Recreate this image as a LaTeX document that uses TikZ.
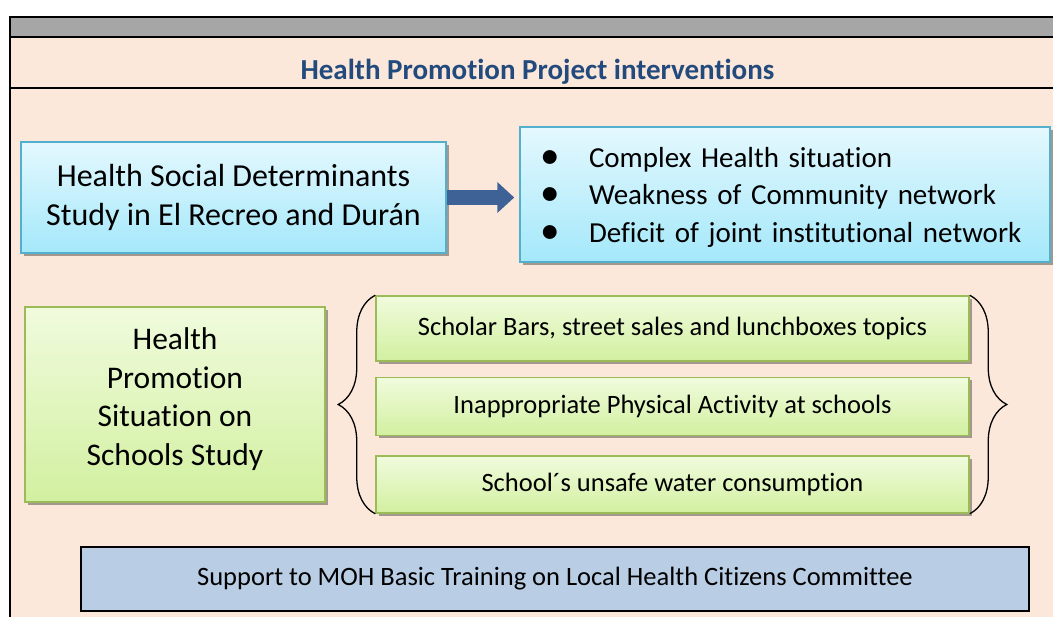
\documentclass[tikz,border=0pt]{standalone}
\usepackage{fontspec}
\setmainfont{Carlito}[Ligatures=NoCommon]
\usetikzlibrary{arrows.meta}
\usetikzlibrary{positioning}
\usetikzlibrary{shadows}
\usetikzlibrary{decorations.pathreplacing}
\definecolor{peach}{RGB}{252,232,218}
\definecolor{band}{RGB}{166,166,166}
\definecolor{ttlblue}{RGB}{35,74,125}
\definecolor{cyantop}{RGB}{228,248,254}
\definecolor{cyanbot}{RGB}{164,232,250}
\definecolor{cyanline}{RGB}{82,176,204}
\definecolor{greentop}{RGB}{240,251,221}
\definecolor{greenbot}{RGB}{210,240,160}
\definecolor{greenline}{RGB}{155,187,89}
\definecolor{mohblue}{RGB}{185,205,229}
\definecolor{arrowblue}{RGB}{62,98,150}
\newcommand{\itm}[1]{\makebox[49pt][l]{\raisebox{-1pt}{\scalebox{1.35}{\textbullet}}}#1}

\begin{document}
\begin{tikzpicture}[x=1pt,
                    y=-1pt,
                    shd/.style={drop shadow={shadow xshift=3pt,shadow yshift=-3pt,opacity=.35,fill=black}},
                    bbox/.style={rectangle,draw=cyanline,line width=1.5pt,top color=cyantop,bottom color=cyanbot,inner sep=0pt,align=center,shd},
                    gbox/.style={rectangle,draw=greenline,line width=1.5pt,top color=greentop,bottom color=greenbot,inner sep=0pt,align=center,shd},
                    sbox/.style={gbox,minimum width=593pt,font=\fontsize{26.5}{32}\selectfont},
                    brc/.style={decorate,decoration={brace,amplitude=37pt},line width=1.3pt}
                    ]
  \useasboundingbox (0,0) rectangle (1053,617);
  \fill[white] (0,0) rectangle (1053,617);
  % table frame
  \fill[peach] (10,17) rectangle (1053,617);
  \fill[band] (10,17) rectangle (1053,37.5);
  \draw[line width=2pt] (10,617) -- (10,17) -- (1053,17);
  \draw[line width=2pt] (10,37.5) -- (1053,37.5);
  \draw[line width=2pt] (10,88) -- (1053,88);
  \node (ttl) at (537.5,71.5) [font=\fontsize{29}{34}\selectfont\bfseries,text=ttlblue]{Health Promotion Project interventions};

  \node[bbox] (det) at (233.5,197.5) [minimum width=425pt,minimum height=111pt,font=\fontsize{32}{39}\selectfont]
        {Health Social Determinants\\Study in El Recreo and Durán};
  \node[bbox] (res) at (785,194.5) [text width=490pt,inner xsep=20pt,minimum height=135pt,text depth=75pt,align=left,font=\fontsize{29}{37.5}\selectfont]
        {\itm{Complex Health situation}\\\itm{Weakness of Community network}\\\itm{Deficit of joint institutional network}};
  \draw[-{Triangle[length=17pt,width=30pt]},line width=15pt,arrowblue,shorten >=5pt] (det.east) -- (det.east -| res.west);

  \node[gbox] (hps) at (175,404.5) [minimum width=300pt,minimum height=195pt,text depth=16pt,font=\fontsize{31.5}{38.5}\selectfont]
        {Health\\Promotion\\Situation on\\Schools Study};
  \node[sbox] (s1) at (672.5,328.5) [minimum height=65pt]{Scholar Bars, street sales and lunchboxes topics};
  \node[sbox] (s2) [below=15pt of s1, minimum height=58pt]{Inappropriate Physical Activity at schools};
  \node[sbox] (s3) [below=19pt of s2, minimum height=57pt]{School´s unsafe water consumption};
  \draw[brc] (s3.south west) -- (s1.north west);
  \draw[brc] (s1.north east) -- (s3.south east);

  \node (moh) at (555,579) [draw=black,line width=1.5pt,fill=mohblue,minimum width=948pt,minimum height=64pt,inner sep=0pt,font=\fontsize{26.5}{32}\selectfont]
        {Support to MOH Basic Training on Local Health Citizens Committee};
\end{tikzpicture}
\end{document}
